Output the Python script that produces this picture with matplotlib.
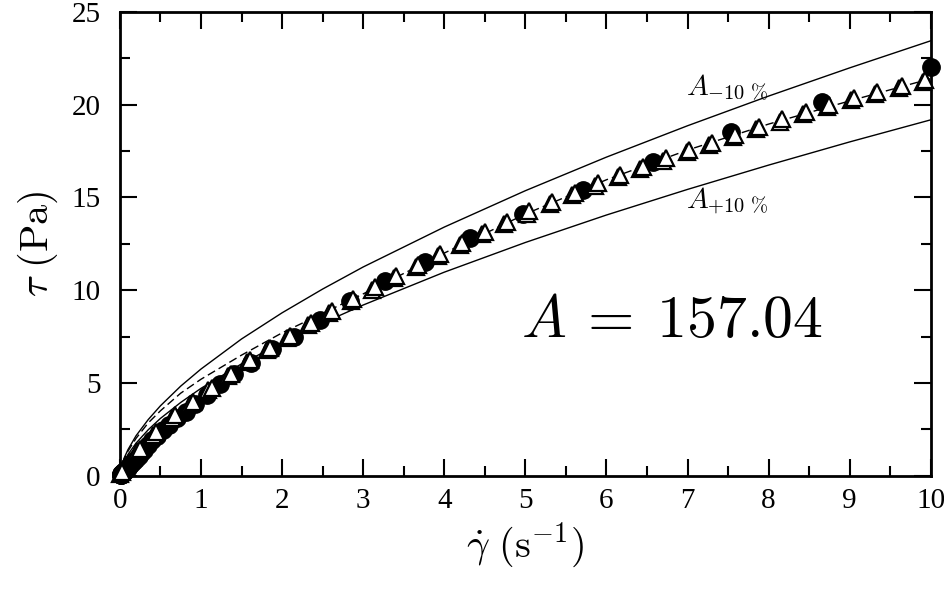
import matplotlib

matplotlib.use("Agg")
import matplotlib.pyplot as plt
from matplotlib.ticker import MultipleLocator

plt.rcParams["mathtext.fontset"] = "cm"
plt.rcParams["font.family"] = ["Liberation Serif", "DejaVu Serif"]

# filled circles (shear rate in 1/s, stress in Pa)
circle_rate = [0.010, 0.012, 0.014, 0.016, 0.018, 0.021, 0.024, 0.028, 0.032, 0.037,
               0.042, 0.049, 0.056, 0.064, 0.074, 0.085, 0.098, 0.113, 0.130, 0.149,
               0.171, 0.197, 0.23, 0.26, 0.30, 0.35, 0.40, 0.46, 0.53, 0.61,
               0.70, 0.81, 0.93, 1.07, 1.23, 1.41, 1.62, 1.87, 2.15, 2.47,
               2.84, 3.27, 3.76, 4.32, 4.97, 5.71, 6.57, 7.54, 8.66, 10.0]
circle_stress = [0.04, 0.05, 0.06, 0.07, 0.08, 0.09, 0.10, 0.12, 0.14, 0.16,
                 0.18, 0.21, 0.24, 0.28, 0.32, 0.37, 0.43, 0.50, 0.58, 0.68,
                 0.78, 0.90, 1.05, 1.20, 1.40, 1.65, 1.90, 2.15, 2.45, 2.75,
                 3.10, 3.45, 3.85, 4.35, 4.95, 5.50, 6.10, 6.85, 7.50, 8.40,
                 9.40, 10.50, 11.50, 12.80, 14.10, 15.40, 16.90, 18.50, 20.15, 22.05]

# open triangles, front series
tri_rate = [0.03, 0.25, 0.45, 0.68, 0.90, 1.13, 1.37, 1.61, 1.85, 2.10,
            2.36, 2.62, 2.88, 3.14, 3.41, 3.68, 3.95, 4.22, 4.50, 4.77,
            5.05, 5.33, 5.61, 5.89, 6.17, 6.45, 6.73, 7.02, 7.30, 7.59,
            7.88, 8.17, 8.46, 8.75, 9.05, 9.34, 9.64, 9.93]
tri_stress = [0.20, 1.45, 2.35, 3.25, 4.00, 4.75, 5.50, 6.25, 6.90, 7.55,
              8.25, 8.90, 9.55, 10.15, 10.75, 11.35, 11.95, 12.55, 13.15, 13.70,
              14.25, 14.75, 15.25, 15.75, 16.20, 16.65, 17.10, 17.55, 17.95, 18.35,
              18.80, 19.20, 19.60, 20.00, 20.35, 20.70, 21.00, 21.35]

# open triangles, back series
tri2_rate = [0.00, 0.21, 0.41, 0.64, 0.86, 1.09, 1.33, 1.57, 1.81, 2.06,
             2.32, 2.58, 2.85, 3.11, 3.38, 3.65, 3.92, 4.19, 4.47, 4.74,
             5.02, 5.30, 5.58, 5.86, 6.14, 6.42, 6.70, 6.99, 7.27, 7.56,
             7.85, 8.14, 8.43, 8.72, 9.02, 9.31, 9.61, 9.90]
tri2_stress = [0.10, 1.32, 2.22, 3.12, 3.88, 4.63, 5.38, 6.12, 6.78, 7.43,
               8.13, 8.78, 9.43, 10.03, 10.63, 11.23, 11.83, 12.43, 13.03, 13.58,
               14.13, 14.63, 15.13, 15.63, 16.08, 16.53, 16.98, 17.43, 17.83, 18.23,
               18.68, 19.08, 19.48, 19.88, 20.23, 20.58, 20.88, 21.23]

# power-law bounds and fit
curve_rate = [0, 0.05, 0.1, 0.2, 0.35, 0.5, 0.75, 1, 1.5, 2, 2.5, 3, 4, 5, 6, 7, 8, 9, 10]
curve_minus10 = [0, 0.93, 1.41, 2.16, 3.03, 3.77, 4.83, 5.75, 7.37, 8.78, 10.06,
                 11.25, 13.40, 15.36, 17.17, 18.86, 20.46, 21.98, 23.44]
curve_plus10 = [0, 0.76, 1.15, 1.76, 2.48, 3.09, 3.95, 4.71, 6.03, 7.18, 8.23,
                9.20, 10.97, 12.57, 14.05, 15.43, 16.74, 17.99, 19.18]
curve_fit = [0, 0.88, 1.33, 2.02, 2.85, 3.50, 4.45, 5.20, 6.50, 7.70, 8.75,
             9.80, 12.00, 14.10, 15.95, 17.55, 18.95, 20.20, 21.40]

fig = plt.figure(figsize=(9.44, 5.91), dpi=100)
ax = fig.add_axes([0.127, 0.195, 0.859, 0.785])

ax.plot(curve_rate, curve_minus10, color="black", lw=1.0, zorder=1)
ax.plot(curve_rate, curve_plus10, color="black", lw=1.0, zorder=1)
ax.plot(curve_rate, curve_fit, color="black", lw=1.0, ls=(0, (6, 3)), zorder=1)

ax.plot(circle_rate, circle_stress, "o", ms=12.5, color="black", zorder=2, clip_on=False)
ax.plot(tri2_rate, tri2_stress, "^", ms=12, mfc="white", mec="black", mew=1.6,
        zorder=3, clip_on=False)
ax.plot(tri_rate, tri_stress, "^", ms=12, mfc="white", mec="black", mew=1.6,
        zorder=4, clip_on=False)

ax.text(6.81, 7.5, r"$A\:=\:157.04$", fontsize=43, ha="center", va="baseline")
ax.text(6.98, 20.5, r"$A_{-10\ \%}$", fontsize=21, ha="left", va="baseline")
ax.text(6.98, 14.4, r"$A_{+10\ \%}$", fontsize=21, ha="left", va="baseline")

ax.set_xlim(0, 10)
ax.set_ylim(0, 25)
ax.xaxis.set_major_locator(MultipleLocator(1))
ax.xaxis.set_minor_locator(MultipleLocator(0.5))
ax.yaxis.set_major_locator(MultipleLocator(5))
ax.yaxis.set_minor_locator(MultipleLocator(2.5))
ax.tick_params(which="both", direction="in", top=True, right=True, width=1.5)
ax.tick_params(which="major", length=12, labelsize=21)
ax.tick_params(which="minor", length=7)
ax.tick_params(axis="x", pad=9)
ax.tick_params(axis="y", pad=14)
for spine in ax.spines.values():
    spine.set_linewidth(2)

ax.set_xlabel(r"$\dot{\gamma}\ (\mathrm{s}^{-1})$", fontsize=29, labelpad=4)
ax.set_ylabel(r"$\tau\ (\mathrm{Pa})$", fontsize=29, labelpad=8)

fig.savefig("out.png", dpi=100)
